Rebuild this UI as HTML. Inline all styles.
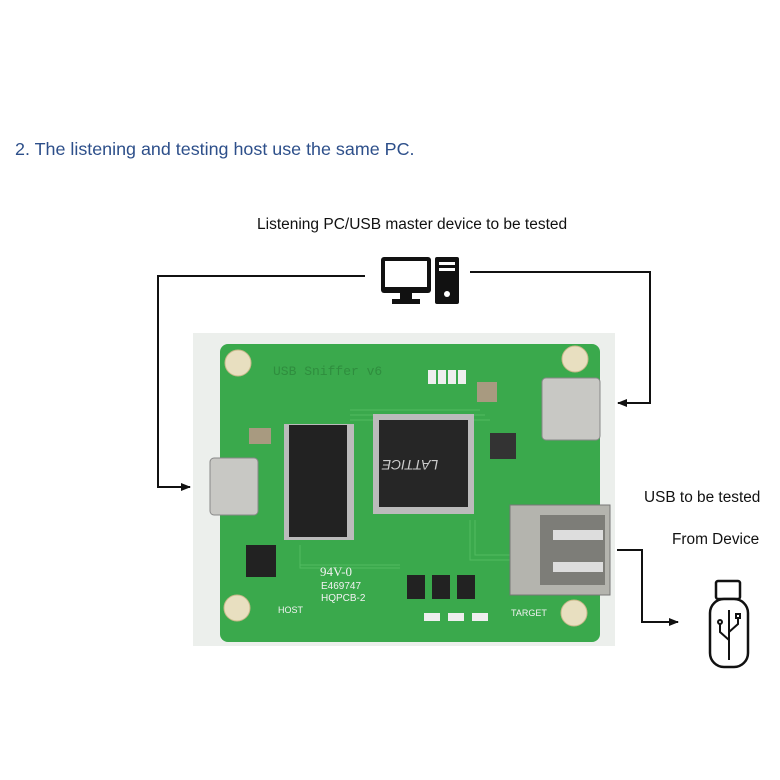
<!DOCTYPE html>
<html><head><meta charset="utf-8"><style>
html,body{margin:0;padding:0;background:#fff;}
body{width:780px;height:780px;position:relative;overflow:hidden;font-family:"Liberation Sans",sans-serif;}
.t{position:absolute;white-space:nowrap;}
</style></head><body>
<div class="t" style="left:15px;top:139px;font-size:17.9px;color:#2d4f8a;">2. The listening and testing host use the same PC.</div>
<div class="t" style="left:257px;top:216px;font-size:15.5px;color:#111;">Listening PC/USB master device to be tested</div>
<div class="t" style="left:644px;top:489px;font-size:15.4px;color:#111;">USB to be tested</div>
<div class="t" style="left:672px;top:531px;font-size:15.4px;color:#111;">From Device</div>
<svg width="780" height="780" style="position:absolute;left:0;top:0">
<defs><marker id="a" markerWidth="10" markerHeight="8" refX="9" refY="4" orient="auto" markerUnits="userSpaceOnUse"><path d="M0,0 L10,4 L0,8 z" fill="#111"/></marker></defs>
<g stroke="#111" stroke-width="2" fill="none">
<polyline points="365,276 158,276 158,487 190,487" marker-end="url(#a)"/>
<polyline points="470,272 650,272 650,403 618,403" marker-end="url(#a)"/>
<polyline points="617,550 642,550 642,622 678,622" marker-end="url(#a)"/>
</g>
<rect x="381" y="257" width="50" height="36" rx="3" fill="#111"/>
<rect x="385" y="261" width="42" height="26" fill="#fff"/>
<rect x="400" y="293" width="12" height="6" fill="#111"/>
<rect x="392" y="299" width="28" height="5" fill="#111"/>
<rect x="435" y="257" width="24" height="47" rx="2" fill="#111"/>
<rect x="439" y="262" width="16" height="3" fill="#fff"/>
<rect x="439" y="268" width="16" height="3" fill="#fff"/>
<circle cx="447" cy="294" r="3" fill="#fff"/>
<g stroke="#111" stroke-width="2.5" fill="#fff">
<rect x="716" y="581" width="24" height="18" rx="2"/>
<rect x="710" y="599" width="38" height="68" rx="14"/>
</g>
<g stroke="#111" stroke-width="2" fill="none">
<line x1="729" y1="610" x2="729" y2="660"/>
<polyline points="729,640 720,632 720,624"/><polyline points="729,632 738,624 738,618"/>
<circle cx="720" cy="622" r="2"/><rect x="736" y="614" width="4" height="4"/>
</g>
<rect x="193" y="333" width="422" height="313" fill="#ecefec"/>
<rect x="220" y="344" width="380" height="298" rx="8" fill="#3aa94c"/>
<g stroke="#58c066" stroke-width="1" fill="none" opacity="0.8">
<path d="M350,410 h130 M350,415 h135 M350,420 h140 M470,520 v40 h40 M475,520 v35 h35 M300,545 v20 h100 M300,550 v18 h100"/>
</g>
<g fill="#e8dfc0" stroke="#c9b98a">
<circle cx="238" cy="363" r="13"/><circle cx="575" cy="359" r="13"/>
<circle cx="237" cy="608" r="13"/><circle cx="574" cy="613" r="13"/>
</g>
<text x="273" y="375" font-size="13" fill="#2f8d3e" font-family="Liberation Mono">USB Sniffer v6</text>
<g fill="#bbb"><rect x="284" y="424" width="70" height="116"/><rect x="373" y="414" width="101" height="100"/></g>
<rect x="289" y="425" width="58" height="112" fill="#222"/>
<rect x="379" y="420" width="89" height="87" fill="#262626"/>
<text x="440" y="480" font-size="14" fill="#ccc" text-anchor="middle" transform="rotate(180 425 470)" font-style="italic">LATTICE</text>
<rect x="490" y="433" width="26" height="26" fill="#333"/>
<rect x="246" y="545" width="30" height="32" fill="#222"/>
<rect x="407" y="575" width="18" height="24" fill="#222"/><rect x="432" y="575" width="18" height="24" fill="#222"/><rect x="457" y="575" width="18" height="24" fill="#222"/>
<rect x="477" y="382" width="20" height="20" fill="#a89a80"/><rect x="249" y="428" width="22" height="16" fill="#a89a80"/>
<g fill="#eee"><rect x="428" y="370" width="8" height="14"/><rect x="438" y="370" width="8" height="14"/><rect x="448" y="370" width="8" height="14"/><rect x="458" y="370" width="8" height="14"/>
<rect x="424" y="613" width="16" height="8"/><rect x="448" y="613" width="16" height="8"/><rect x="472" y="613" width="16" height="8"/></g>
<rect x="210" y="458" width="48" height="57" rx="4" fill="#c8c8c4" stroke="#888"/>
<rect x="542" y="378" width="58" height="62" rx="4" fill="#c8c8c4" stroke="#888"/>
<rect x="510" y="505" width="100" height="90" fill="#b4b4ae" stroke="#777"/>
<rect x="540" y="515" width="65" height="70" fill="#7d7d78"/>
<rect x="553" y="530" width="50" height="10" fill="#ddd"/><rect x="553" y="562" width="50" height="10" fill="#ddd"/>
<text x="320" y="576" font-size="13" fill="#f2f2f2" font-family="Liberation Serif">94V-0</text>
<text x="321" y="589" font-size="10" fill="#f2f2f2">E469747</text>
<text x="321" y="601" font-size="10" fill="#f2f2f2">HQPCB-2</text>
<text x="278" y="613" font-size="9" fill="#f2f2f2">HOST</text>
<text x="511" y="616" font-size="9" fill="#f2f2f2">TARGET</text>
</svg>
</body></html>
